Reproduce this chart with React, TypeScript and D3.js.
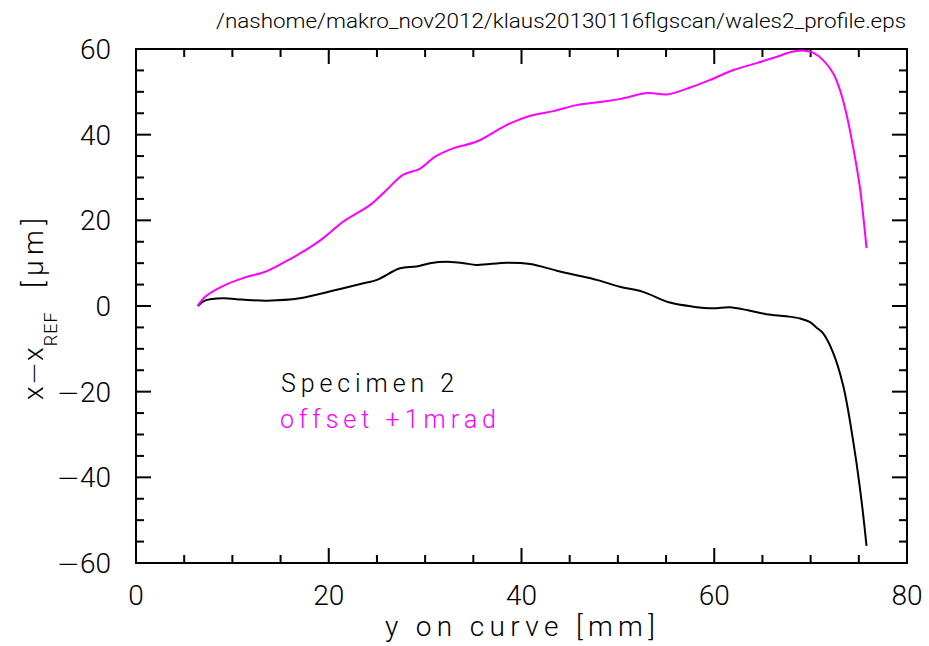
import React from "react";
import * as d3 from "d3";

const titleText = "/nashome/makro_nov2012/klaus20130116flgscan/wales2_profile.eps";
const xLabel = "y on curve [mm]";
const yLabelParts = ["x", "\u2212", "x"];
const yLabelSub = "REF";
const yLabelUnit = "[\u03bcm]";
const legendLabels = ["Specimen 2", "offset +1mrad"];
const seriesColors = ["#000000", "#ff00ff"];

const xMajorTicks = [0, 20, 40, 60, 80];
const yMajorTicks = [-60, -40, -20, 0, 20, 40, 60];
const xMinorTicks = [5, 10, 15, 25, 30, 35, 45, 50, 55, 65, 70, 75];
const yMinorTicks = [-55, -50, -45, -35, -30, -25, -15, -10, -5, 5, 10, 15, 25, 30, 35, 45, 50, 55];

const specimenX = [6.4, 7.2, 9.0, 11.0, 13.6, 17.0, 20.5, 23.6, 25.0, 27.4, 29.1, 30.5, 32.6, 34.0, 35.35, 38.5, 40.9, 43.65, 45.7, 47.8, 50.2, 52.6, 55.4, 57.8, 59.9, 61.6, 63.5, 65.4, 67.5, 68.9, 69.9, 70.6, 71.3, 72.35, 73.4, 74.4, 75.1, 75.8];
const specimenY = [0, 1.3, 1.8, 1.5, 1.25, 1.8, 3.6, 5.3, 6.1, 8.8, 9.2, 10.0, 10.3, 10.0, 9.6, 10.1, 9.8, 8.25, 7.2, 6.1, 4.5, 3.3, 0.8, -0.15, -0.55, -0.3, -1.0, -1.9, -2.4, -2.9, -3.7, -5.0, -6.4, -11.0, -18.8, -31.3, -42.2, -56.0];

const offsetX = [6.4, 7.2, 9.06, 11.1, 13.4, 15.3, 17.2, 19.4, 21.5, 24.3, 26.0, 27.7, 29.5, 31.0, 32.9, 35.35, 38.5, 40.9, 43.3, 45.7, 48.3, 50.2, 53.1, 55.1, 57.5, 59.6, 62.0, 64.4, 66.5, 68.2, 69.4, 70.3, 71.3, 72.35, 73.05, 73.7, 74.4, 75.1, 75.8];
const offsetY = [0, 2.2, 4.7, 6.5, 8.0, 10.1, 12.5, 15.8, 19.7, 23.6, 27.1, 30.6, 32.1, 34.8, 36.8, 38.4, 42.3, 44.4, 45.5, 46.9, 47.7, 48.3, 49.7, 49.4, 51.0, 52.8, 55.1, 56.7, 58.2, 59.4, 59.6, 59.1, 57.4, 54.3, 50.4, 45.0, 37.2, 27.9, 13.5];

const W = 929;
const H = 646;
const left = 136;
const right = 907;
const top = 49;
const bottom = 563;
const FONT = "Roboto, 'DejaVu Sans', sans-serif";
const MINUS_FONT = "'DejaVu Sans', sans-serif";
const WEIGHT = 300;

export default function App() {
  const x = d3.scaleLinear().domain([0, 80]).range([left, right]);
  const y = d3.scaleLinear().domain([-60, 60]).range([bottom, top]);
  const line = d3
    .line<[number, number]>()
    .x((d) => x(d[0]))
    .y((d) => y(d[1]))
    .curve(d3.curveCatmullRom.alpha(0.5));

  const s1 = specimenX.map((v, i) => [v, specimenY[i]] as [number, number]);
  const s2 = offsetX.map((v, i) => [v, offsetY[i]] as [number, number]);

  const major = 15;
  const minor = 8;
  const tickStroke = { stroke: "#000", strokeWidth: 2 };

  return (
    <svg
      width={W}
      height={H}
      style={{ position: "absolute", left: 0, top: 0, background: "#fff" }}
      fontFamily={FONT}
      fontWeight={WEIGHT}
    >
      <rect x={0} y={0} width={W} height={H} fill="#fff" />
      <text
        x={906}
        y={28}
        fontSize={20}
        textAnchor="end"
        textLength={690}
        lengthAdjust="spacingAndGlyphs"
      >
        {titleText}
      </text>

      {xMajorTicks.map((t) => (
        <g key={"xM" + t}>
          <line x1={x(t)} x2={x(t)} y1={bottom} y2={bottom - major} {...tickStroke} />
          <line x1={x(t)} x2={x(t)} y1={top} y2={top + major} {...tickStroke} />
          <text x={x(t)} y={605} fontSize={28} textAnchor="middle">
            {t}
          </text>
        </g>
      ))}
      {xMinorTicks.map((t) => (
        <g key={"xm" + t}>
          <line x1={x(t)} x2={x(t)} y1={bottom} y2={bottom - minor} {...tickStroke} />
          <line x1={x(t)} x2={x(t)} y1={top} y2={top + minor} {...tickStroke} />
        </g>
      ))}
      {yMajorTicks.map((t) => (
        <g key={"yM" + t}>
          <line x1={left} x2={left + major} y1={y(t)} y2={y(t)} {...tickStroke} />
          <line x1={right} x2={right - major} y1={y(t)} y2={y(t)} {...tickStroke} />
          <text x={111} y={y(t) + 10} fontSize={28} textAnchor="end">
            {t < 0 ? (
              <tspan fontFamily={MINUS_FONT} fontWeight={200}>
                {"\u2212"}
              </tspan>
            ) : null}
            <tspan>{String(Math.abs(t))}</tspan>
          </text>
        </g>
      ))}
      {yMinorTicks.map((t) => (
        <g key={"ym" + t}>
          <line x1={left} x2={left + minor} y1={y(t)} y2={y(t)} {...tickStroke} />
          <line x1={right} x2={right - minor} y1={y(t)} y2={y(t)} {...tickStroke} />
        </g>
      ))}

      <rect
        x={left}
        y={top}
        width={right - left}
        height={bottom - top}
        fill="none"
        stroke="#000"
        strokeWidth={2}
      />

      <path d={line(s1) || ""} fill="none" stroke={seriesColors[0]} strokeWidth={2} />
      <path d={line(s2) || ""} fill="none" stroke={seriesColors[1]} strokeWidth={2} />

      <text x={385} y={636} fontSize={28} textLength={270} lengthAdjust="spacing">
        {xLabel}
      </text>

      <g transform="translate(43,400) rotate(-90)">
        <text x={0} y={0} fontSize={28}>
          <tspan>{yLabelParts[0]}</tspan>
          <tspan fontFamily={MINUS_FONT} fontWeight={200} dx={1}>
            {yLabelParts[1]}
          </tspan>
          <tspan dx={1}>{yLabelParts[2]}</tspan>
          <tspan fontSize={18} dy={14} dx={1} letterSpacing={1}>
            {yLabelSub}
          </tspan>
        </text>
        <text x={112} y={0} fontSize={28} textLength={70} lengthAdjust="spacing">
          {yLabelUnit}
        </text>
      </g>

      <text
        x={281}
        y={392}
        fontSize={25}
        fill={seriesColors[0]}
        textLength={173}
        lengthAdjust="spacing"
      >
        {legendLabels[0]}
      </text>
      <text
        x={280}
        y={428}
        fontSize={25}
        fill={seriesColors[1]}
        textLength={216}
        lengthAdjust="spacing"
      >
        {legendLabels[1]}
      </text>
    </svg>
  );
}
